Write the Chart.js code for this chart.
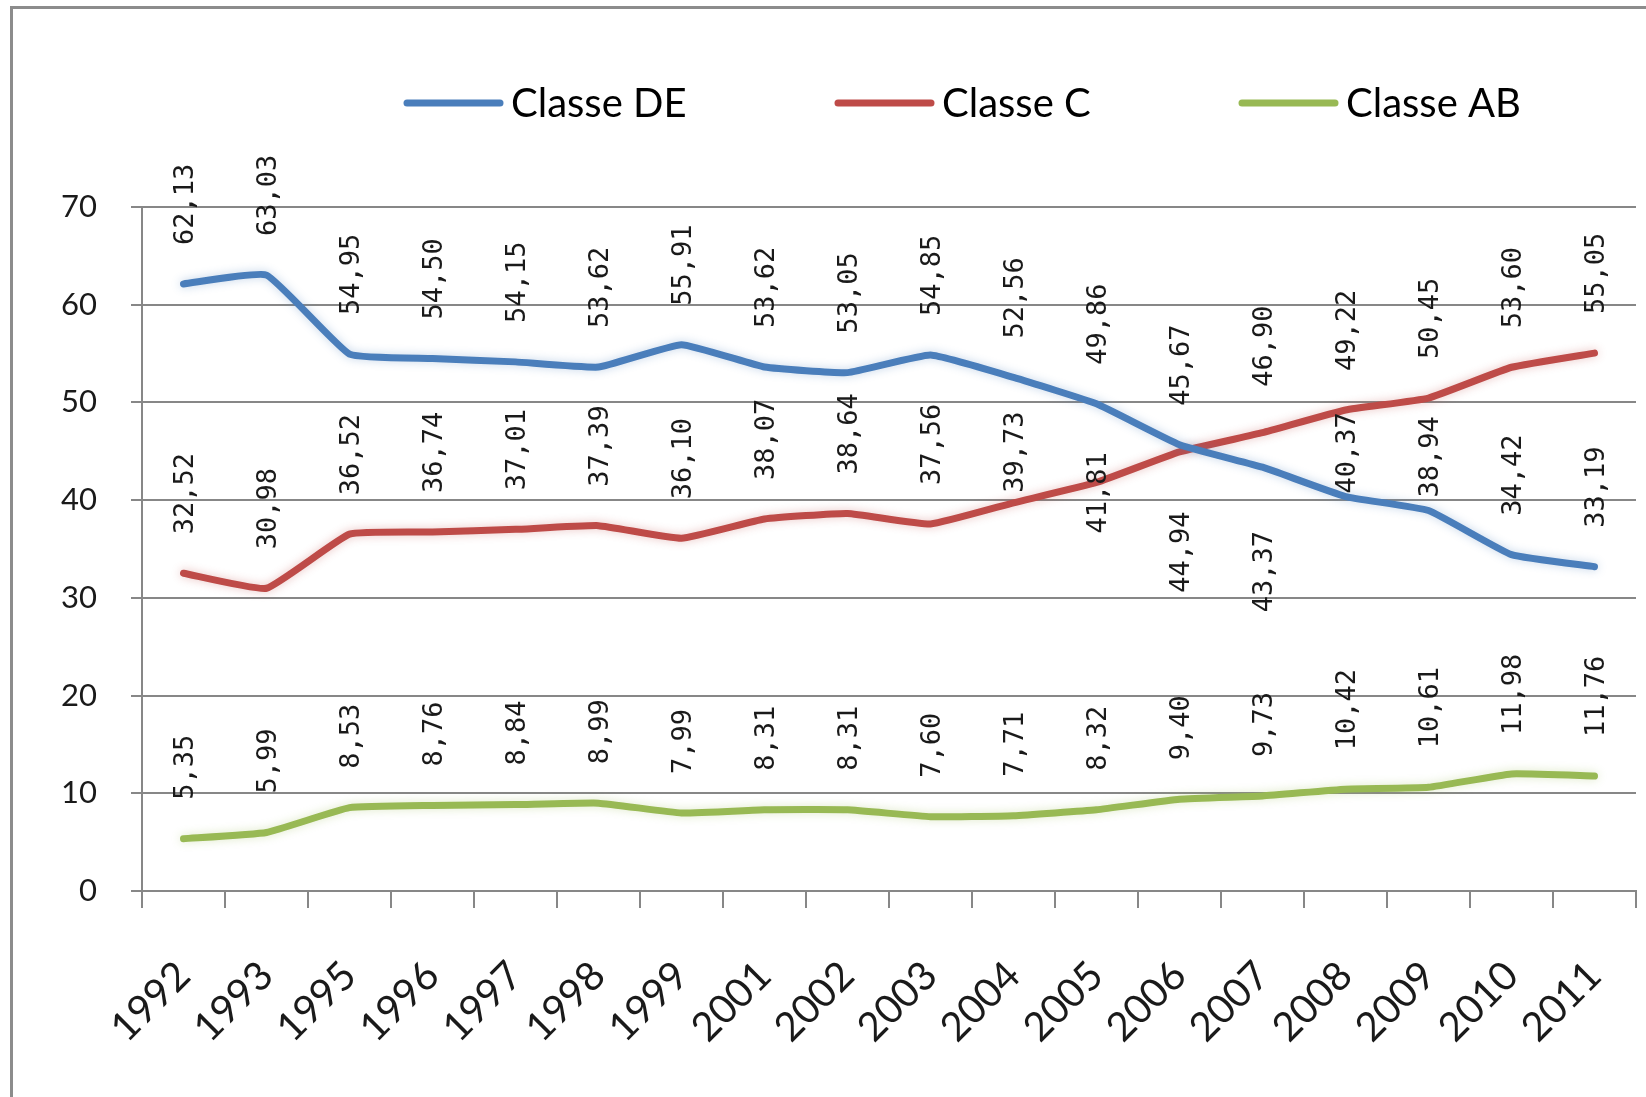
<!DOCTYPE html>
<html lang="pt">

<head>
    <meta charset="UTF-8">
    <title>Classes DE, C e AB (1992-2011)</title>
    <script src="https://cdn.jsdelivr.net/npm/chart.js"></script>
    <style>
        * {
            margin: 0;
            padding: 0;
            box-sizing: border-box;
        }

        body {
            background: #ffffff;
            width: 1646px;
            height: 1097px;
            overflow: hidden;
            position: relative;
        }

        .frame {
            position: absolute;
            left: 10px;
            top: 6px;
            width: 1700px;
            height: 1200px;
            border-left: 3px solid #8c8c8c;
            border-top: 3px solid #8c8c8c;
        }

        .chart-box {
            position: absolute;
            left: 0;
            top: 0;
            width: 1646px;
            height: 1097px;
        }
    </style>
</head>

<body>
    <div class="frame"></div>
    <div class="chart-box">
        <canvas id="classChart"></canvas>
    </div>

    <script>
        const years = ['1992', '1993', '1995', '1996', '1997', '1998', '1999', '2001', '2002',
            '2003', '2004', '2005', '2006', '2007', '2008', '2009', '2010', '2011'];
        const classeDE = [62.13, 63.03, 54.95, 54.50, 54.15, 53.62, 55.91, 53.62, 53.05,
            54.85, 52.56, 49.86, 45.67, 43.37, 40.37, 38.94, 34.42, 33.19];
        const classeC = [32.52, 30.98, 36.52, 36.74, 37.01, 37.39, 36.10, 38.07, 38.64,
            37.56, 39.73, 41.81, 44.94, 46.90, 49.22, 50.45, 53.60, 55.05];
        const classeAB = [5.35, 5.99, 8.53, 8.76, 8.84, 8.99, 7.99, 8.31, 8.31,
            7.60, 7.71, 8.32, 9.40, 9.73, 10.42, 10.61, 11.98, 11.76];
        const yMin = 0, yMax = 70, yStep = 10;

        // where each value label starts, in px above its point (negative = below)
        const gapDefault = 39;
        const gapDE = { 13: -145, 14: 3, 15: 13 };
        const gapC = { 10: 10, 11: -51, 12: -141, 13: 46 };
        const gapAB = {};

        const gridColor = '#878787';
        const textColor = '#1a1a1a';

        // value labels, rotated like the excel ones
        const valueLabels = {
            id: 'valueLabels',
            afterDatasetsDraw(chart) {
                const ctx = chart.ctx;
                const gaps = [gapDE, gapC, gapAB];
                ctx.save();
                ctx.font = '27px "DejaVu Sans Mono"';
                ctx.fillStyle = textColor;
                ctx.textAlign = 'left';
                ctx.textBaseline = 'middle';
                chart.data.datasets.forEach((ds, di) => {
                    const meta = chart.getDatasetMeta(di);
                    meta.data.forEach((pt, i) => {
                        const gap = gaps[di][i] !== undefined ? gaps[di][i] : gapDefault;
                        const txt = ds.data[i].toFixed(2).replace('.', ',');
                        ctx.save();
                        ctx.translate(pt.x + 2, pt.y - gap);
                        ctx.rotate(-Math.PI / 2);
                        ctx.fillText(txt, 0, 0);
                        ctx.restore();
                    });
                });
                ctx.restore();
            }
        };

        // legend row, placed like the original
        const topLegend = {
            id: 'topLegend',
            afterDraw(chart, args, opts) {
                const ctx = chart.ctx;
                ctx.save();
                ctx.font = '40px Lato';
                ctx.textBaseline = 'middle';
                ctx.lineCap = 'round';
                chart.data.datasets.forEach((ds, i) => {
                    const x = opts.starts[i];
                    ctx.strokeStyle = ds.borderColor;
                    ctx.lineWidth = 7;
                    ctx.beginPath();
                    ctx.moveTo(x, opts.y);
                    ctx.lineTo(x + opts.lineLen, opts.y);
                    ctx.stroke();
                    ctx.fillStyle = '#000';
                    ctx.fillText(ds.label, x + opts.lineLen + 11, opts.y + 1);
                });
                ctx.restore();
            }
        };

        // soft glow round the lines
        const lineGlow = {
            id: 'lineGlow',
            beforeDatasetDraw(chart, args) {
                const ctx = chart.ctx;
                ctx.save();
                ctx.shadowColor = args.meta.dataset.options.borderColor + '55';
                ctx.shadowBlur = 10;
            },
            afterDatasetDraw(chart) {
                chart.ctx.restore();
            }
        };

        const ctx = document.getElementById('classChart').getContext('2d');
        const classChart = new Chart(ctx, {
            type: 'line',
            data: {
                labels: years,
                datasets: [
                    { label: 'Classe DE', data: classeDE, borderColor: '#4a7ebb', backgroundColor: '#4a7ebb' },
                    { label: 'Classe C', data: classeC, borderColor: '#be4b48', backgroundColor: '#be4b48' },
                    { label: 'Classe AB', data: classeAB, borderColor: '#98b954', backgroundColor: '#98b954' }
                ]
            },
            options: {
                responsive: true,
                maintainAspectRatio: false,
                animation: false,
                layout: { padding: { top: 207, right: 10, left: 0, bottom: 0 } },
                elements: {
                    line: { borderWidth: 7, tension: 0.12, borderJoinStyle: 'round', borderCapStyle: 'round' },
                    point: { radius: 0, hoverRadius: 0 }
                },
                plugins: {
                    legend: { display: false },
                    tooltip: { enabled: false },
                    topLegend: { starts: [407, 838, 1242], y: 103, lineLen: 93 }
                },
                scales: {
                    x: {
                        offset: true,
                        grid: { offset: true, drawOnChartArea: false, drawTicks: true, tickLength: 17, color: gridColor, lineWidth: 2 },
                        border: { display: true, color: gridColor, width: 2 },
                        ticks: {
                            autoSkip: false, maxRotation: 45, minRotation: 45, padding: 44,
                            color: textColor, font: { family: 'Lato', size: 40 }
                        },
                        afterFit(scale) {
                            scale.height = 206;
                            // keep the plot reaching the right edge like the original
                            scale.paddingLeft = 0;
                            scale.paddingRight = 0;
                        }
                    },
                    y: {
                        min: yMin,
                        max: yMax,
                        grid: { color: gridColor, lineWidth: 2, drawTicks: true, tickLength: 11 },
                        border: { display: true, color: gridColor, width: 2 },
                        ticks: {
                            stepSize: yStep, padding: 34,
                            color: textColor, font: { family: 'Lato', size: 31 }
                        },
                        afterFit(scale) { scale.width = 142; }
                    }
                }
            },
            plugins: [valueLabels, topLegend, lineGlow]
        });
    </script>
</body>

</html>
